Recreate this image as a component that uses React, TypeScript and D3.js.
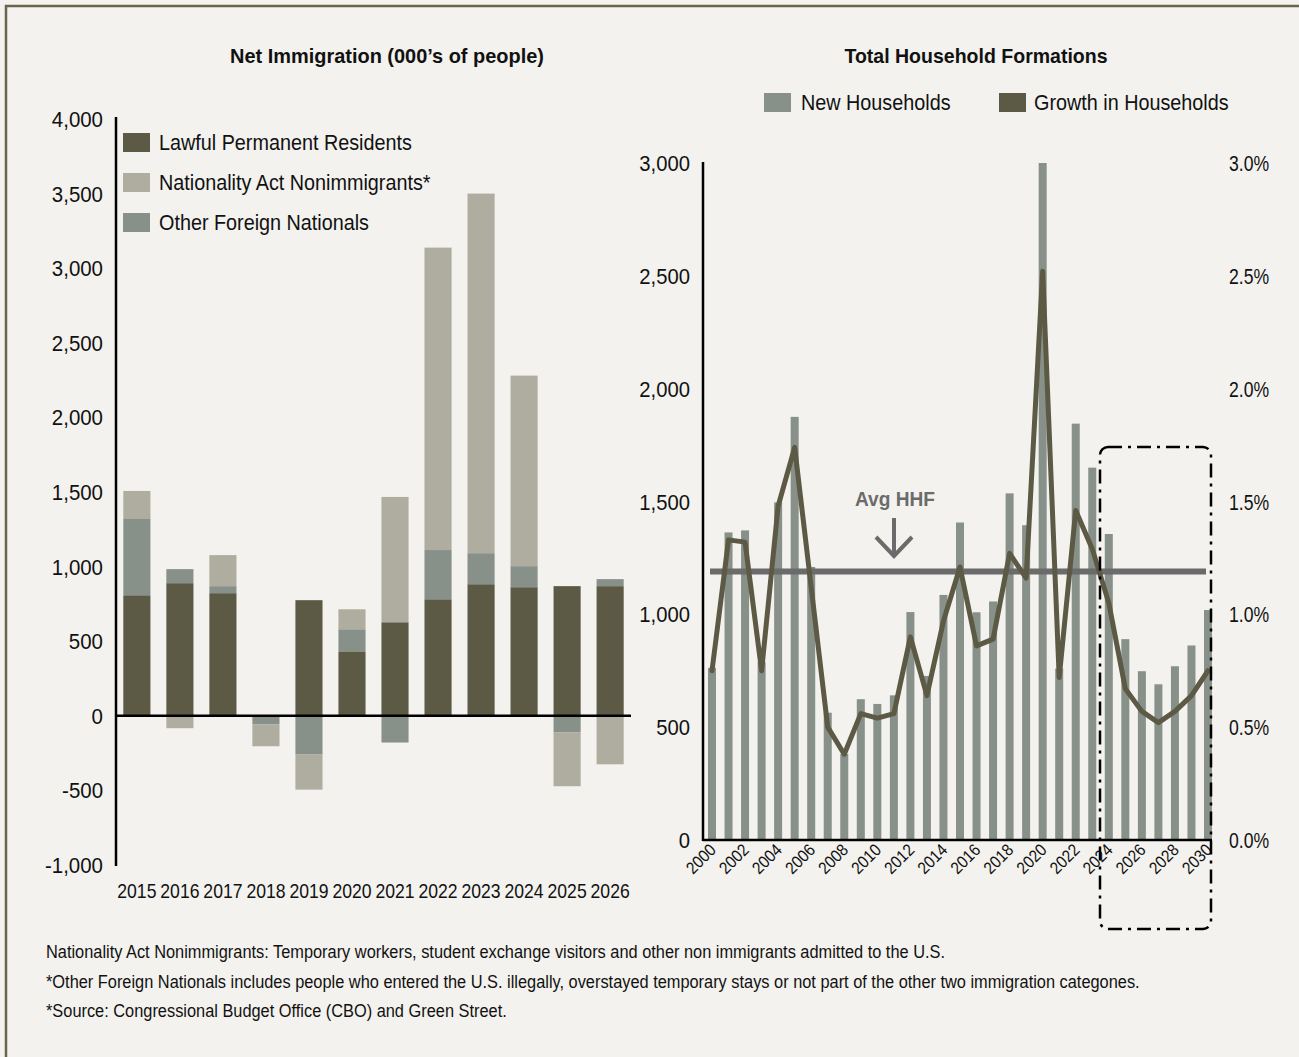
import React from "react";
import * as d3 from "d3";

const FONT = "'Liberation Sans', Arial, sans-serif";

// ---- Left chart data: Net Immigration (000's of people)
const immYears = ["2015", "2016", "2017", "2018", "2019", "2020", "2021", "2022", "2023", "2024", "2025", "2026"];
const lawful = [808, 889, 822, 0, 775, 432, 627, 781, 882, 862, 869, 869];
const otherForeign = [511, 94, 47, -58, -260, 148, -179, 330, 208, 141, -112, 47];
const nonimmigrants = [188, -83, 208, -146, -235, 134, 840, 2027, 2410, 1277, -360, -325];
const immTicks = [-1000, -500, 0, 500, 1000, 1500, 2000, 2500, 3000, 3500, 4000];
const immSeries = ["Lawful Permanent Residents", "Other Foreign Nationals", "Nationality Act Nonimmigrants*"];
const legendOrder = ["Lawful Permanent Residents", "Nationality Act Nonimmigrants*", "Other Foreign Nationals"];

// ---- Right chart data: Total Household Formations
const hhYears = d3.range(2000, 2031).map(String);
const newHouseholds = [763, 1363, 1372, 788, 1496, 1875, 1210, 564, 381, 624, 603, 641, 1010, 727, 1086, 1407, 1009, 1057, 1536, 1395, 3000, 760, 1845, 1650, 1356, 890, 748, 690, 770, 862, 1019];
const growthPct = [0.75, 1.33, 1.32, 0.75, 1.48, 1.74, 1.12, 0.5, 0.38, 0.56, 0.54, 0.56, 0.9, 0.64, 0.97, 1.21, 0.86, 0.89, 1.27, 1.16, 2.52, 0.72, 1.46, 1.29, 1.05, 0.67, 0.57, 0.52, 0.57, 0.64, 0.75];
const hhTicks = [0, 500, 1000, 1500, 2000, 2500, 3000];
const pctTicks = [0, 0.005, 0.01, 0.015, 0.02, 0.025, 0.03];
const avgHHF = 1190;

const footnotes = [
  "Nationality Act Nonimmigrants: Temporary workers, student exchange visitors and other non immigrants admitted to the U.S.",
  "*Other Foreign Nationals includes people who entered the U.S. illegally, overstayed temporary stays or not part of the other two immigration categones.",
  "*Source: Congressional Budget Office (CBO) and Green Street.",
];

const COLORS: Record<string, string> = {
  "Lawful Permanent Residents": "#5c5945",
  "Nationality Act Nonimmigrants*": "#aeada0",
  "Other Foreign Nationals": "#879089",
};
const BAR_HH = "#879089";
const LINE_HH = "#5c5945";
const AVG = "#6b6b6b";
const BG = "#f3f2ee";
const INK = "#111";

function T(props: {
  x: number; y: number; size: number; anchor?: string; weight?: string; fill?: string;
  sx?: number; rotate?: number; children: React.ReactNode;
}) {
  const { x, y, size, anchor = "start", weight = "normal", fill = INK, sx = 0.9, rotate, children } = props;
  const tr = `translate(${x},${y})${rotate ? ` rotate(${rotate})` : ""} scale(${sx},1)`;
  return (
    <text transform={tr} textAnchor={anchor} fontSize={size} fontWeight={weight} fill={fill} fontFamily={FONT}>
      {children}
    </text>
  );
}

export default function App() {
  const W = 1299, H = 1057;

  // Left scales
  const xL = d3.scaleBand<string>().domain(immYears).range([116, 631]).paddingInner(0.37).paddingOuter(0.17);
  const yL = d3.scaleLinear().domain([-1000, 4000]).range([865, 119]);
  const rows = immYears.map((y, i) => ({
    year: y,
    "Lawful Permanent Residents": lawful[i],
    "Other Foreign Nationals": otherForeign[i],
    "Nationality Act Nonimmigrants*": nonimmigrants[i],
  }));
  const stack = d3.stack<any>().keys(immSeries).offset(d3.stackOffsetDiverging)(rows);
  const fmt = (v: number) => d3.format(",")(v).replace("\u2212", "-");

  // Right scales
  const xR = d3.scalePoint<string>().domain(hhYears).range([712, 1208]);
  const yR = d3.scaleLinear().domain([0, 3000]).range([840, 163]);
  const yP = d3.scaleLinear().domain([0, 0.03]).range([840, 163]);
  const line = d3.line<number>().x((_, i) => xR(hhYears[i])!).y((d) => yP(d / 100));
  const pctFmt = d3.format(".1%");

  return (
    <svg width={W} height={H} style={{ position: "absolute", left: 0, top: 0, background: BG }} fontFamily={FONT}>
      <rect x={0} y={0} width={W} height={H} fill={BG} />
      <rect x={6} y={6} width={W + 20} height={H + 20} fill="none" stroke="#67654f" strokeWidth={2.5} />

      {/* Titles */}
      <T x={387} y={63} size={21} anchor="middle" weight="bold" sx={0.95}>Net Immigration (000’s of people)</T>
      <T x={976} y={63} size={21} anchor="middle" weight="bold" sx={0.93}>Total Household Formations</T>

      {/* Left chart bars */}
      {stack.map((s) => (
        <g key={s.key} fill={COLORS[s.key]}>
          {s.map((d, i) => (
            <rect key={i} x={xL(immYears[i])} width={xL.bandwidth()} y={yL(Math.max(d[0], d[1]))} height={Math.abs(yL(d[0]) - yL(d[1]))} />
          ))}
        </g>
      ))}
      {/* Left axes */}
      <line x1={116} x2={116} y1={117} y2={866} stroke="#000" strokeWidth={2.5} />
      <line x1={116} x2={631} y1={yL(0)} y2={yL(0)} stroke="#000" strokeWidth={2.5} />
      {immTicks.map((t) => (
        <T key={t} x={103} y={yL(t) + 8} size={22} anchor="end" sx={0.93}>{fmt(t)}</T>
      ))}
      {immYears.map((y) => (
        <T key={y} x={xL(y)! + xL.bandwidth() / 2} y={898} size={20} anchor="middle" sx={0.88}>{y}</T>
      ))}
      {/* Left legend */}
      {legendOrder.map((k, i) => (
        <g key={k}>
          <rect x={123} y={133 + i * 40} width={27} height={19} fill={COLORS[k]} />
          <T x={159} y={150 + i * 40} size={22} sx={0.9}>{k}</T>
        </g>
      ))}

      {/* Right chart legend */}
      <rect x={764} y={93} width={27} height={19} fill={BAR_HH} />
      <T x={801} y={110} size={22} sx={0.9}>New Households</T>
      <rect x={999} y={93} width={27} height={19} fill={LINE_HH} />
      <T x={1034} y={110} size={22} sx={0.9}>Growth in Households</T>

      {/* Right bars */}
      {newHouseholds.map((v, i) => (
        <rect key={i} x={xR(hhYears[i])! - 4} width={8} y={yR(v)} height={yR(0) - yR(v)} fill={BAR_HH} />
      ))}
      {/* Avg line */}
      <line x1={710} x2={1206} y1={yR(avgHHF)} y2={yR(avgHHF)} stroke={AVG} strokeWidth={6} />
      <T x={895} y={506} size={21} anchor="middle" weight="bold" fill={AVG} sx={0.91}>Avg HHF</T>
      <line x1={894} x2={894} y1={518} y2={557} stroke={AVG} strokeWidth={4} />
      <polyline points="876,537 894,556 912,537" fill="none" stroke={AVG} strokeWidth={4} />
      {/* Growth line */}
      <path d={line(growthPct)!} fill="none" stroke={LINE_HH} strokeWidth={5} strokeLinejoin="round" strokeLinecap="round" />

      {/* Right axes */}
      <line x1={703} x2={703} y1={162} y2={841} stroke="#000" strokeWidth={2.5} />
      <line x1={703} x2={1212} y1={840} y2={840} stroke="#000" strokeWidth={2.5} />
      {hhTicks.map((t) => (
        <T key={t} x={690} y={yR(t) + 8} size={22} anchor="end" sx={0.92}>{fmt(t)}</T>
      ))}
      {pctTicks.map((t) => (
        <T key={t} x={1229} y={yP(t) + 8} size={22} sx={0.8}>{pctFmt(t)}</T>
      ))}
      {hhYears.filter((_, i) => i % 2 === 0).map((y) => (
        <T key={y} x={xR(y)! + 5} y={851} size={17} anchor="end" rotate={-45} sx={0.9}>{y}</T>
      ))}

      {/* Dash-dot box */}
      <rect x={1100} y={447} width={111} height={482} rx={8} fill="none" stroke="#000" strokeWidth={2.5} strokeDasharray="14,6,3,6" />

      {/* Footnotes */}
      {footnotes.map((f, i) => (
        <T key={i} x={46} y={958 + i * 29.5} size={17.5} sx={0.935}>{f}</T>
      ))}
    </svg>
  );
}
